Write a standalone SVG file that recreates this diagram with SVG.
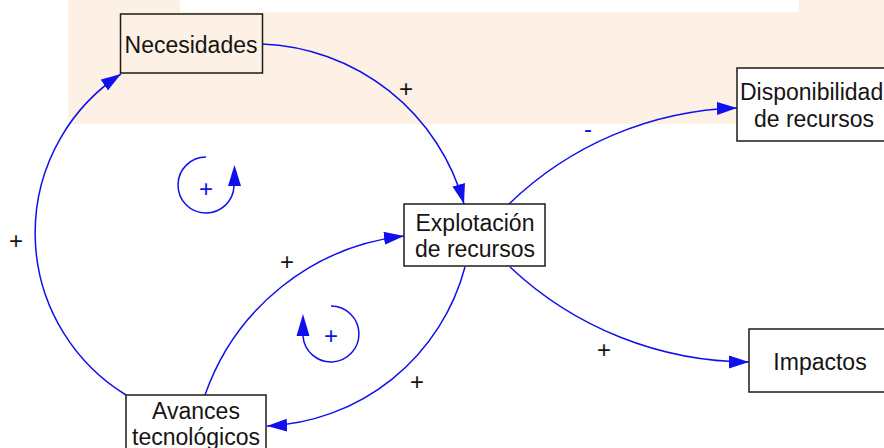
<svg xmlns="http://www.w3.org/2000/svg" width="884" height="448" viewBox="0 0 884 448">
<defs>
<style>
.box{fill:#ffffff;stroke:#1e1a16;stroke-width:1.5}
.lbl{font-family:"Liberation Sans",Arial,sans-serif;font-size:23px;fill:#161412;text-anchor:middle}
.pol{font-family:"Liberation Sans",Arial,sans-serif;font-size:24px;fill:#161412;text-anchor:middle}
.blue{fill:#1010EE}
.link{fill:none;stroke:#1010EE;stroke-width:1.5;marker-end:url(#ah)}
.loop{fill:none;stroke:#1010EE;stroke-width:1.5}
</style>
<marker id="ah" markerUnits="userSpaceOnUse" markerWidth="22" markerHeight="14" refX="20" refY="7" orient="auto">
<path d="M0,0.5 L20,7 L0,13.5 z" fill="#1010EE"/>
</marker>
</defs>
<rect x="0" y="0" width="884" height="448" fill="#ffffff"/>
<rect x="68" y="0" width="816" height="124" fill="#FDF0E5"/>
<rect x="180" y="0" width="619" height="12" fill="#ffffff"/>

<g id="connectors">
<path class="link" d="M262,44 A218,218 0 0 1 464,204"/>
<path class="link" d="M126,395 A190,190 0 0 1 121,74"/>
<path class="link" d="M205,395 A239,239 0 0 1 404,236"/>
<path class="link" d="M465,267 A214,214 0 0 1 267,426"/>
<path class="link" d="M509,204 A342,342 0 0 1 737,108"/>
<path class="link" d="M510,267 A349,349 0 0 0 749,362"/>
<text class="pol" x="406" y="97">+</text>
<text class="pol blue" x="588" y="137">-</text>
<text class="pol" x="604" y="358">+</text>
<text class="pol" x="417" y="390">+</text>
<text class="pol" x="287" y="270">+</text>
<text class="pol" x="16" y="249">+</text>
</g>

<g id="loop1">
<path class="loop" d="M206,157 A28,28 0 1 0 234,186"/>
<polygon class="blue" points="228,186 241,186 234.5,165"/>
<text class="pol blue" x="206" y="197">+</text>
</g>
<g id="loop2">
<path class="loop" d="M331,306 A28,28 0 1 1 303,336"/>
<polygon class="blue" points="296.5,336 309.5,336 303,314"/>
<text class="pol blue" x="331" y="344">+</text>
</g>

<g id="necesidades">
<rect class="box" x="120.5" y="14" width="142" height="59" style="fill:#FDF0E5"/>
<text class="lbl" x="191" y="53">Necesidades</text>
</g>
<g id="explotacion">
<rect class="box" x="404" y="204" width="141" height="62"/>
<text class="lbl" x="475" y="231">Explotación</text>
<text class="lbl" x="475" y="257">de recursos</text>
</g>
<g id="disponibilidad">
<rect class="box" x="737" y="68" width="160" height="73"/>
<text class="lbl" x="740" y="100" style="text-anchor:start">Disponibilidad</text>
<text class="lbl" x="814" y="127">de recursos</text>
</g>
<g id="impactos">
<rect class="box" x="749" y="329" width="150" height="63"/>
<text class="lbl" x="820" y="370">Impactos</text>
</g>
<g id="avances">
<rect class="box" x="126" y="395" width="140" height="70"/>
<text class="lbl" x="196" y="419">Avances</text>
<text class="lbl" x="196" y="445">tecnológicos</text>
</g>
</svg>
